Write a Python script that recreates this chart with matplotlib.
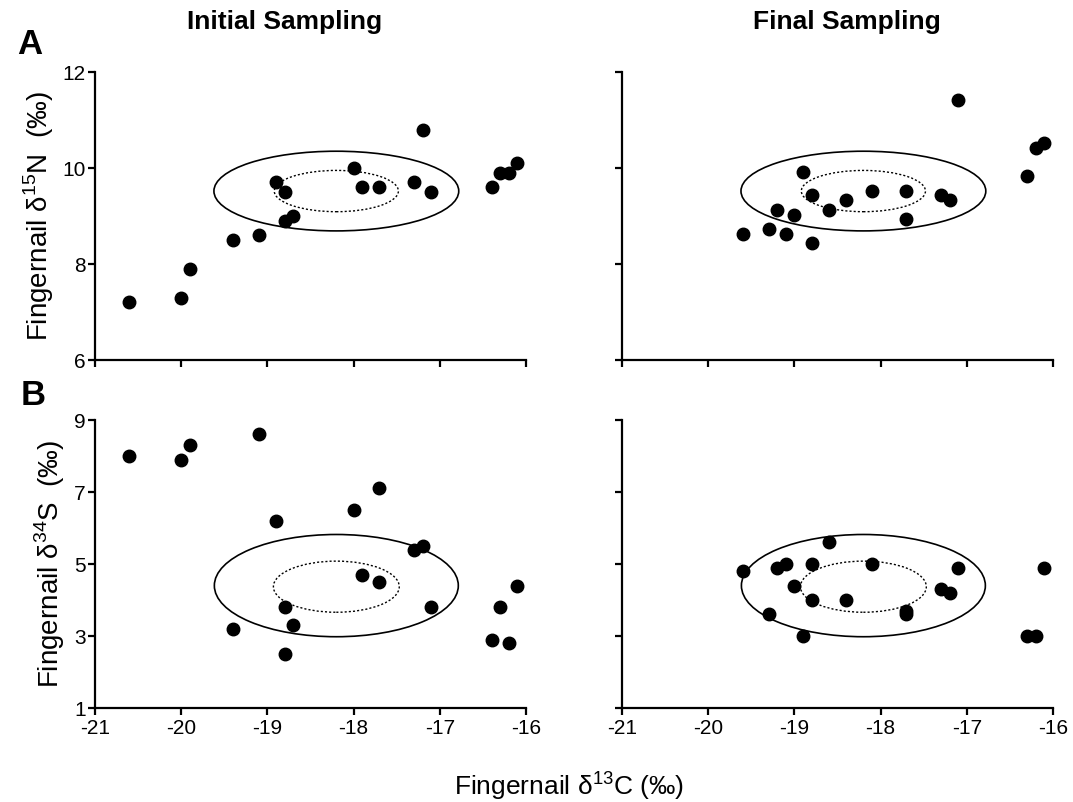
import matplotlib
matplotlib.use('Agg')
from matplotlib import pyplot as plt
from matplotlib.patches import Ellipse

plt.rcParams['font.family'] = ['Liberation Sans', 'DejaVu Sans']
plt.rcParams['mathtext.fontset'] = 'custom'
plt.rcParams['mathtext.rm'] = 'Liberation Sans'
plt.rcParams['axes.unicode_minus'] = False

# initial sampling
init_c_n = [-20.6, -20.0, -19.9, -19.4, -19.1, -18.9, -18.8, -18.8, -18.7, -18.0,
            -17.9, -17.7, -17.3, -17.2, -17.1, -16.4, -16.3, -16.2, -16.1]
init_n = [7.2, 7.3, 7.9, 8.5, 8.6, 9.7, 9.5, 8.9, 9.0, 10.0,
          9.6, 9.6, 9.7, 10.8, 9.5, 9.6, 9.9, 9.9, 10.1]
init_c_s = [-20.6, -20.0, -19.9, -19.4, -19.1, -18.9, -18.8, -18.8, -18.7, -18.0,
            -17.9, -17.7, -17.7, -17.3, -17.2, -17.1, -16.4, -16.3, -16.2, -16.1]
init_s = [8.0, 7.9, 8.3, 3.2, 8.6, 6.2, 3.8, 2.5, 3.3, 6.5,
          4.7, 7.1, 4.5, 5.4, 5.5, 3.8, 2.9, 3.8, 2.8, 4.4]

# final sampling
final_c = [-19.6, -19.3, -19.2, -19.1, -19.0, -18.9, -18.8, -18.8, -18.6, -18.4,
           -18.1, -17.7, -17.7, -17.3, -17.2, -17.1, -16.3, -16.2, -16.1]
final_n = [8.63, 8.72, 9.12, 8.63, 9.03, 9.92, 9.43, 8.43, 9.12, 9.33,
           9.53, 9.53, 8.93, 9.43, 9.33, 11.42, 9.83, 10.42, 10.53]
final_s = [4.8, 3.6, 4.9, 5.0, 4.4, 3.0, 5.0, 4.0, 5.6, 4.0,
           5.0, 3.7, 3.6, 4.3, 4.2, 4.9, 3.0, 3.0, 4.9]

# reference ellipses (center x, center y, width, height)
ell_n_outer = (-18.2, 9.52, 2.84, 1.66)
ell_n_inner = (-18.2, 9.52, 1.44, 0.86)
ell_s_outer = (-18.2, 4.40, 2.83, 2.84)
ell_s_inner = (-18.2, 4.37, 1.46, 1.42)

x_ticks = [-21, -20, -19, -18, -17, -16]
n_ticks = [6, 8, 10, 12]
s_ticks = [1, 3, 5, 7, 9]

fig = plt.figure(figsize=(10.73, 8.02), dpi=100)
w, h = 0.4017, 0.3591
ax_a1 = fig.add_axes([0.0885, 0.5511, w, h])
ax_a2 = fig.add_axes([0.5797, 0.5511, w, h])
ax_b1 = fig.add_axes([0.0885, 0.1172, w, h])
ax_b2 = fig.add_axes([0.5797, 0.1172, w, h])


def panel(ax, xs, ys, ylim, yticks, outer, inner, xlab, ylab):
    for e, ls, lw in [(outer, '-', 1.2), (inner, (0, (1.5, 1.5)), 1.0)]:
        ax.add_patch(Ellipse((e[0], e[1]), e[2], e[3], fill=False,
                             edgecolor='black', linestyle=ls, linewidth=lw))
    ax.plot(xs, ys, 'o', color='black', ms=9, clip_on=False, zorder=3)
    ax.set_xlim(-21, -16)
    ax.set_ylim(*ylim)
    ax.set_xticks(x_ticks)
    ax.set_yticks(yticks)
    for s in ['top', 'right']:
        ax.spines[s].set_visible(False)
    for s in ['left', 'bottom']:
        ax.spines[s].set_linewidth(1.6)
    ax.tick_params(direction='out', length=5, width=1.6, labelsize=15,
                   labelbottom=xlab, labelleft=ylab)
    ax.tick_params(axis='x', pad=3)
    ax.tick_params(axis='y', pad=1.5)


panel(ax_a1, init_c_n, init_n, (6, 12), n_ticks, ell_n_outer, ell_n_inner, False, True)
panel(ax_a2, final_c, final_n, (6, 12), n_ticks, ell_n_outer, ell_n_inner, False, False)
panel(ax_b1, init_c_s, init_s, (1, 9), s_ticks, ell_s_outer, ell_s_inner, True, True)
panel(ax_b2, final_c, final_s, (1, 9), s_ticks, ell_s_outer, ell_s_inner, True, False)

ax_a1.set_ylabel('Fingernail δ$^{15}$N  (‰)', fontsize=20, labelpad=5)
ax_b1.set_ylabel('Fingernail δ$^{34}$S  (‰)', fontsize=20, labelpad=5)

fig.text(0.265, 0.972, 'Initial Sampling', fontsize=19, fontweight='bold', ha='center', va='center')
fig.text(0.789, 0.972, 'Final Sampling', fontsize=19, fontweight='bold', ha='center', va='center')
fig.text(0.028, 0.944, 'A', fontsize=25, fontweight='bold', ha='center', va='center')
fig.text(0.031, 0.507, 'B', fontsize=25, fontweight='bold', ha='center', va='center')
fig.text(0.53, 0.021, 'Fingernail δ$^{13}$C (‰)', fontsize=19, ha='center', va='center')

plt.savefig('out.png', dpi=100)
